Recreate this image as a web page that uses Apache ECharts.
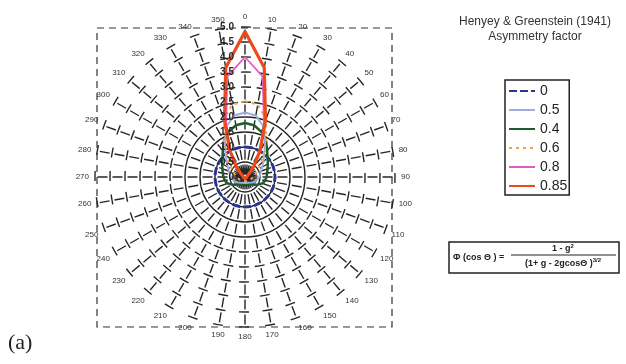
<!DOCTYPE html>
<html><head><meta charset="utf-8">
<script src="https://cdn.jsdelivr.net/npm/echarts@6/dist/echarts.min.js"></script>
<style>html,body{margin:0;padding:0;background:#fff}#chart{width:626px;height:364px}</style>
</head><body><div id="chart"></div>
<script>
// Scattering angle (degrees) at which each phase-function value is given
const angles = [0,10,20,30,40,50,60,70,80,90,100,110,120,130,140,150,160,170,180,
                190,200,210,220,230,240,250,260,270,280,290,300,310,320,330,340,350];

// Asymmetry factors shown in the legend (legend order)
const gLabels = ['0','0.5','0.4','0.6','0.8','0.85'];

// Phase-function radius for each asymmetry factor, one value per angle
const phaseG0 = [1,1,1,1,1,1,1,1,1,1,1,1,1,1,1,1,1,1,1,
                 1,1,1,1,1,1,1,1,1,1,1,1,1,1,1,1,1];
const phaseG04 = [1.8,1.75,1.6,1.4,1.15,0.98,0.88,0.8,0.75,0.72,0.68,0.62,0.5,0.4,0.32,0.27,0.25,0.24,0.24,
                  0.24,0.25,0.27,0.32,0.4,0.5,0.62,0.68,0.72,0.75,0.8,0.88,0.98,1.15,1.4,1.6,1.75];
const phaseG05 = [2.15,2.08,1.8,1.35,1.0,0.8,0.66,0.57,0.51,0.47,0.43,0.39,0.34,0.29,0.25,0.22,0.2,0.2,0.2,
                  0.2,0.2,0.22,0.25,0.29,0.34,0.39,0.43,0.47,0.51,0.57,0.66,0.8,1.0,1.35,1.8,2.08];
const phaseG06 = [2.53,2.45,2.05,1.4,0.95,0.68,0.5,0.4,0.33,0.28,0.24,0.21,0.19,0.17,0.16,0.15,0.15,0.14,0.14,
                  0.14,0.15,0.15,0.16,0.17,0.19,0.21,0.24,0.28,0.33,0.4,0.5,0.68,0.95,1.4,2.05,2.45];
const phaseG08 = [4.0,3.4,1.85,0.95,0.45,0.22,0.12,0.08,0.07,0.06,0.06,0.06,0.06,0.06,0.06,0.06,0.06,0.06,0.06,
                  0.06,0.06,0.06,0.06,0.06,0.06,0.06,0.06,0.06,0.07,0.08,0.12,0.22,0.45,0.95,1.85,3.4];
const phaseG085 = [4.85,3.7,2.0,1.0,0.45,0.2,0.1,0.07,0.06,0.05,0.05,0.05,0.05,0.05,0.05,0.05,0.05,0.05,0.05,
                   0.05,0.05,0.05,0.05,0.05,0.05,0.05,0.05,0.05,0.06,0.07,0.1,0.2,0.45,1.0,2.0,3.7];

// Radial tick values (labelled along the 0-degree spoke)
const radialTicks = [0,0.5,1,1.5,2,2.5,3,3.5,4,4.5,5];

const chart = echarts.init(document.getElementById('chart'), null, {renderer: 'canvas'});

function closedLoop(values) {
  const pts = angles.map((a, i) => [values[i], a]);
  pts.push([values[0], 360]);
  return pts;
}

const CENTER = [245, 177];
const gridColor = '#262626';
const gridWidth = 1.4;
const SPOKE_STEP = 10;      // degrees between spokes
const CIRCLE_DASH = 10;     // px length of the circle dash laid across every spoke

function curve(name, values, color, width, type, z) {
  return {
    name: name, type: 'line', coordinateSystem: 'polar',
    data: closedLoop(values), symbol: 'none', smooth: false, z: z,
    lineStyle: {color: color, width: width, type: type},
    itemStyle: {color: color}
  };
}

// Concentric grid circles: a short arc crosses each spoke, so the grid
// forms a T/L pattern and closes up into solid rings near the pole.
const gridCircles = {
  type: 'custom', coordinateSystem: 'polar', silent: true, z: 1,
  data: radialTicks.slice(1).map(v => [v, 0]),
  renderItem: function (params, api) {
    const cs = params.coordSys;
    const p = api.coord([api.value(0), 0]);
    const r = Math.hypot(p[0] - cs.cx, p[1] - cs.cy);
    const stroke = {fill: 'none', stroke: gridColor, lineWidth: gridWidth};
    const period = 2 * Math.PI * r / (360 / SPOKE_STEP);
    if (period - CIRCLE_DASH < 1.5) {
      return {type: 'circle', shape: {cx: cs.cx, cy: cs.cy, r: r}, style: stroke};
    }
    const before = (CIRCLE_DASH * 0.4) / r;
    const after = (CIRCLE_DASH * 0.6) / r;
    const arcs = [];
    for (let a = 0; a < 360; a += SPOKE_STEP) {
      const t = a * Math.PI / 180;
      arcs.push({type: 'arc', shape: {cx: cs.cx, cy: cs.cy, r: r,
        startAngle: t - before, endAngle: t + after, clockwise: true}, style: stroke});
    }
    return {type: 'group', children: arcs};
  }
};

const option = {
  backgroundColor: '#fff',
  animation: false,
  polar: {center: CENTER, radius: 150},
  angleAxis: {
    type: 'value', min: 0, max: 360, interval: SPOKE_STEP,
    startAngle: 90, clockwise: true,
    axisLine: {show: false},
    axisTick: {show: false},
    axisLabel: {show: true, margin: 6, fontSize: 8, color: '#333', fontFamily: 'Liberation Sans'},
    splitLine: {show: true, lineStyle: {color: gridColor, width: gridWidth, type: [10, 5], dashOffset: 12.5}}
  },
  radiusAxis: {
    type: 'value', min: radialTicks[0], max: radialTicks[radialTicks.length - 1], interval: 0.5,
    axisLine: {show: false}, axisTick: {show: false},
    axisLabel: {
      show: true, margin: 11, fontSize: 10, fontWeight: 'bold', color: '#2a2a2a', fontFamily: 'Liberation Sans',
      formatter: v => (v === 0 ? '0' : v.toFixed(1))
    },
    splitLine: {show: false},
    z: 9
  },
  legend: {
    data: gLabels, orient: 'vertical', left: 505, top: 80,
    itemWidth: 26, itemHeight: 12, itemGap: 5,
    padding: [4, 2, 2, 3],
    borderColor: '#222', borderWidth: 1.5,
    itemStyle: {opacity: 0, borderWidth: 0},
    textStyle: {fontSize: 14, color: '#222', fontFamily: 'Liberation Sans'},
    selectedMode: false
  },
  series: [
    gridCircles,
    curve(gLabels[0], phaseG0, '#2a3590', 3, [8, 3], 3),
    curve(gLabels[2], phaseG04, '#1f5b2c', 2.5, 'solid', 4),
    curve(gLabels[1], phaseG05, '#9cadde', 2, 'solid', 5),
    curve(gLabels[3], phaseG06, '#f2a445', 2, [3, 4], 6),
    curve(gLabels[4], phaseG08, '#e35cc4', 1.8, 'solid', 7),
    curve(gLabels[5], phaseG085, '#ec4a1c', 3.2, 'solid', 8)
  ],
  graphic: [
    {type: 'rect', shape: {x: 97, y: 28, width: 295, height: 299},
     style: {fill: 'none', stroke: '#333', lineWidth: 1.2, lineDash: [7, 5]}, z: 1},
    {type: 'text', x: 535, y: 22, style: {text: 'Henyey & Greenstein (1941)', fill: '#333',
      font: '12px "Liberation Sans"', align: 'center', verticalAlign: 'middle'}},
    {type: 'text', x: 535, y: 37, style: {text: 'Asymmetry factor', fill: '#333',
      font: '12px "Liberation Sans"', align: 'center', verticalAlign: 'middle'}},
    {type: 'rect', shape: {x: 449, y: 242, width: 170, height: 31},
     style: {fill: 'none', stroke: '#222', lineWidth: 1.5}},
    {type: 'text', x: 453, y: 258, style: {text: '\u03A6 (cos \u0398 ) =', fill: '#222',
      font: 'bold 9px "Liberation Sans"', align: 'left', verticalAlign: 'middle'}},
    {type: 'text', x: 563, y: 249, style: {
      text: '1 - g{s|2}', fill: '#222', font: 'bold 9px "Liberation Sans"', align: 'center', verticalAlign: 'middle',
      rich: {s: {fontSize: 6, fontWeight: 'bold', padding: [0, 0, 6, 0]}}}},
    {type: 'line', shape: {x1: 511, y1: 255, x2: 616, y2: 255}, style: {stroke: '#222', lineWidth: 1}},
    {type: 'text', x: 563, y: 264, style: {
      text: '(1+ g - 2gcos\u0398 ){s|3/2}', fill: '#222', font: 'bold 9px "Liberation Sans"', align: 'center', verticalAlign: 'middle',
      rich: {s: {fontSize: 6, fontWeight: 'bold', padding: [0, 0, 7, 0]}}}},
    {type: 'text', x: 8, y: 343, style: {text: '(a)', fill: '#222',
      font: '22px "Liberation Serif"', align: 'left', verticalAlign: 'middle'}}
  ]
};

chart.setOption(option);
</script>
</body></html>
